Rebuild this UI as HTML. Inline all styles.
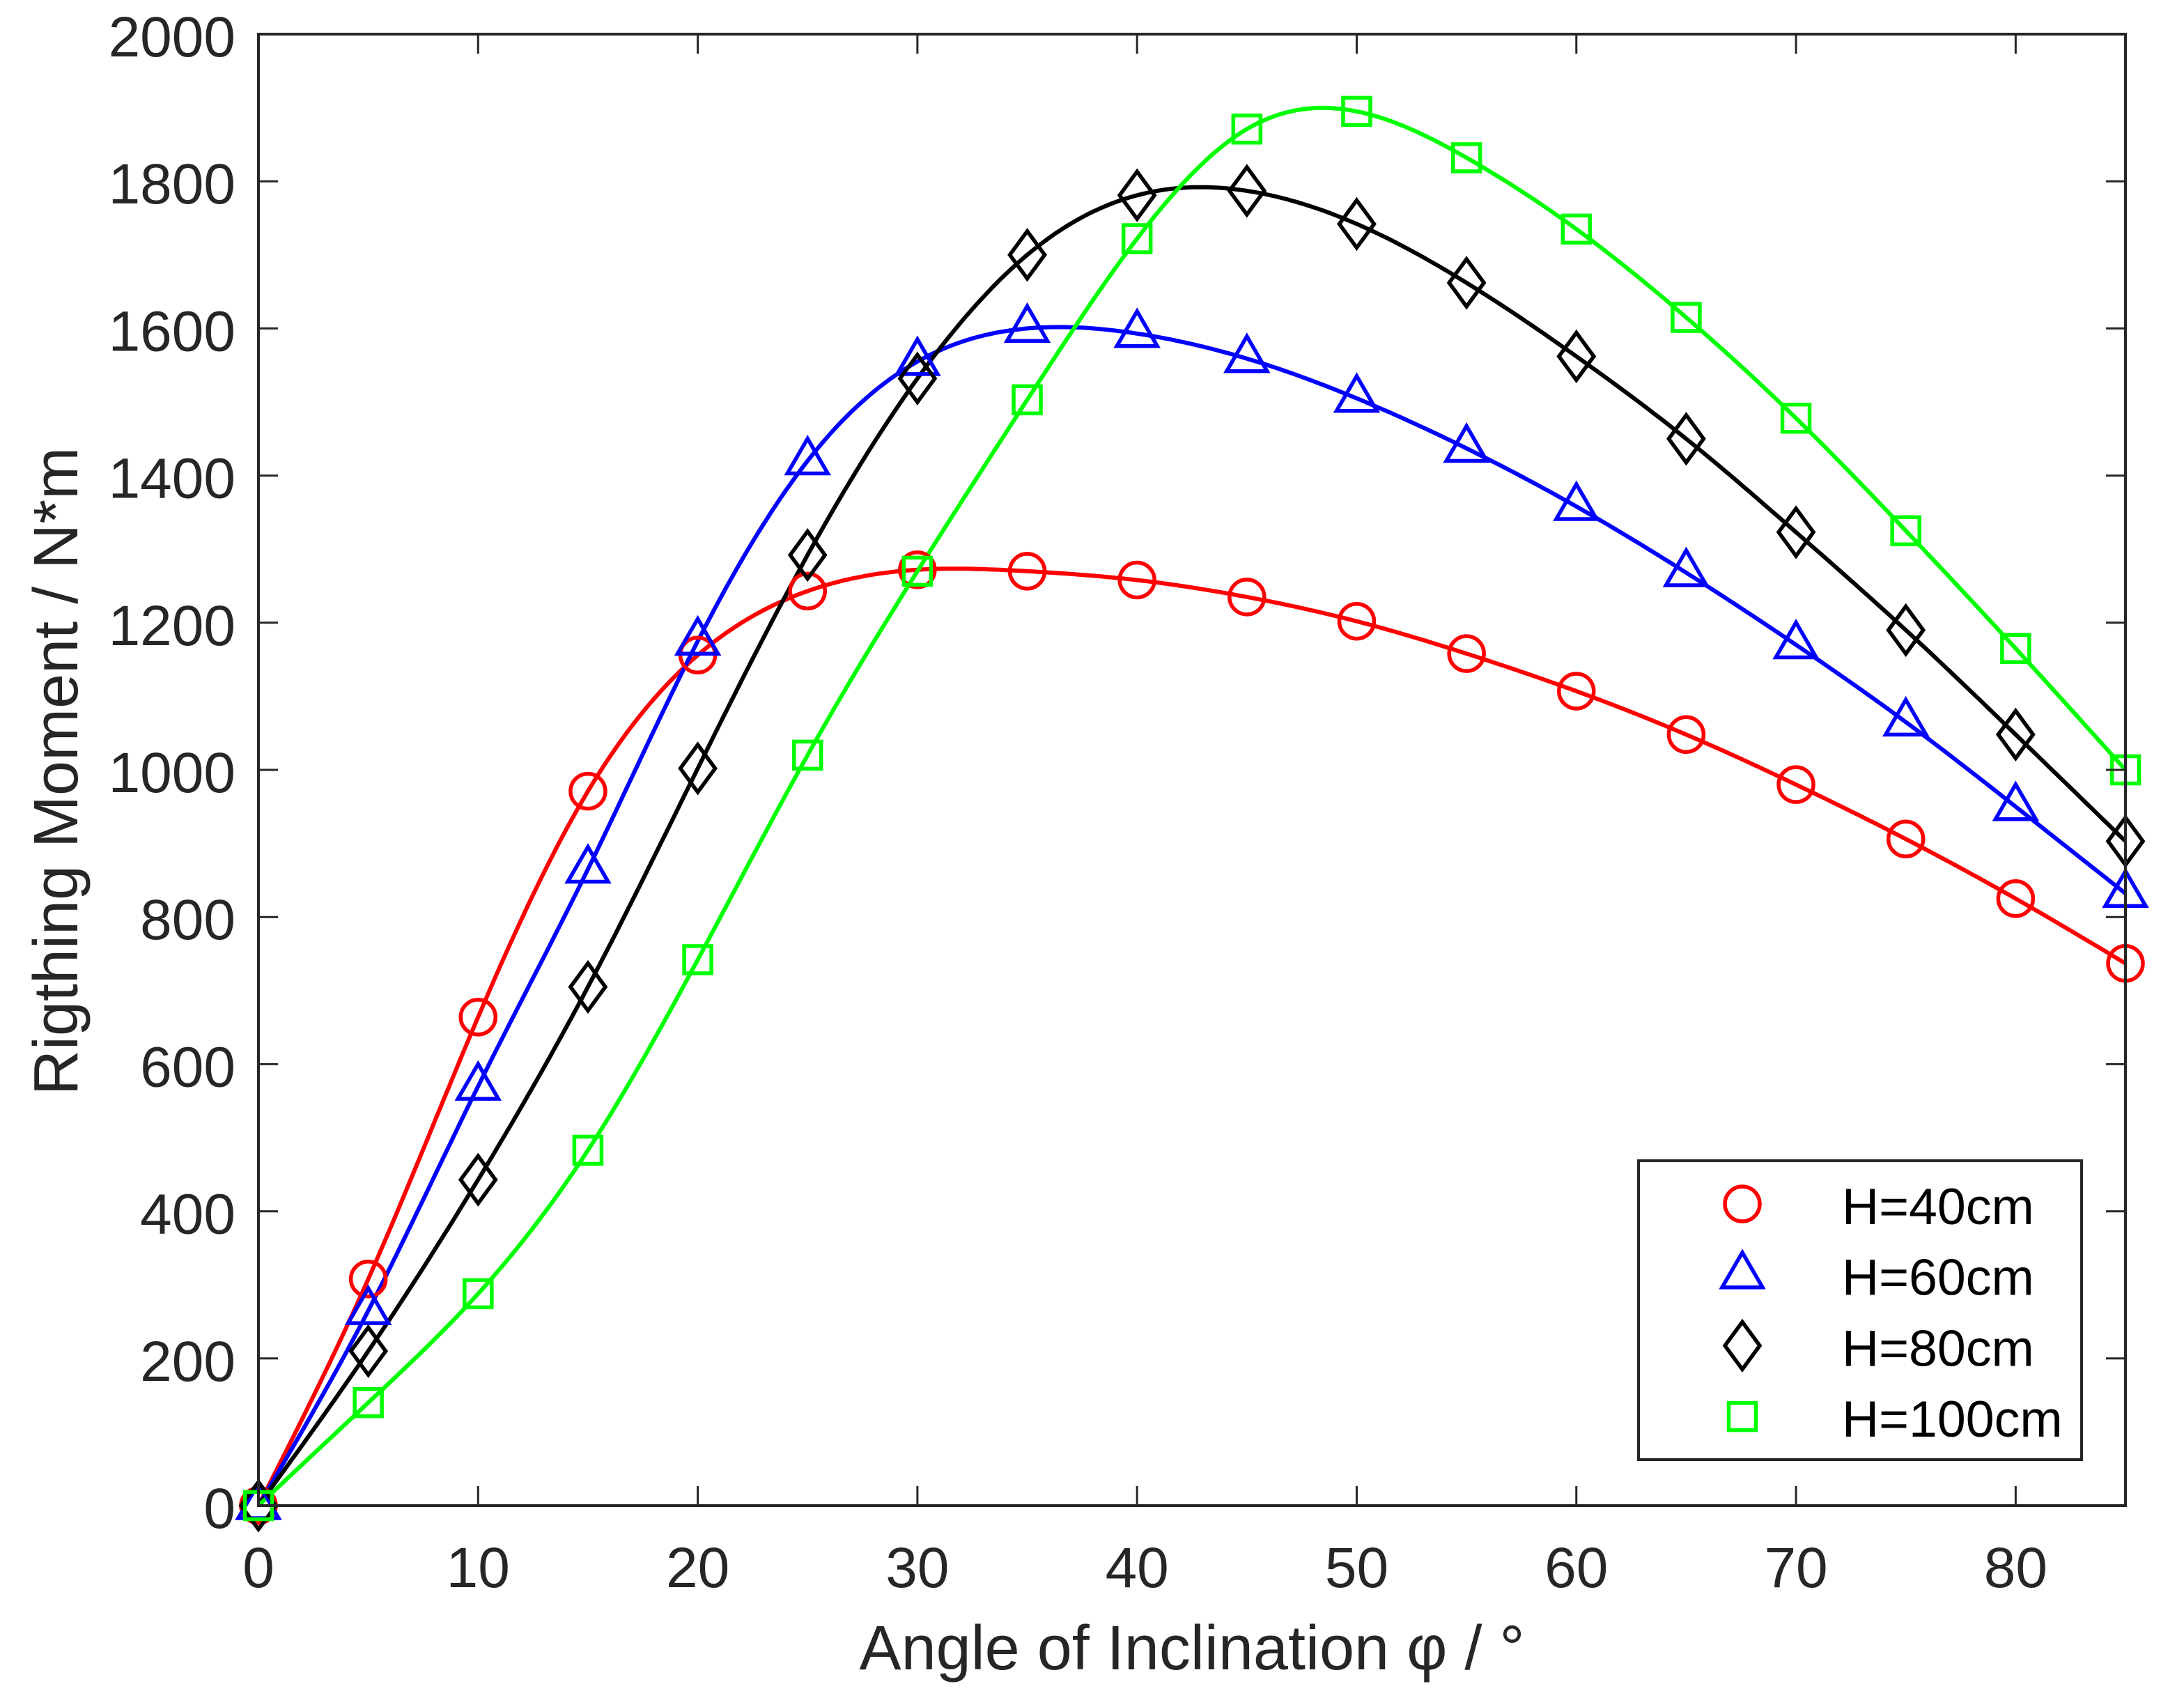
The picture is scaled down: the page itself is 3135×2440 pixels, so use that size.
<!DOCTYPE html>
<html lang="en">
<head>
<meta charset="utf-8">
<title>Righting Moment vs Angle of Inclination</title>
<style>
html,body{margin:0;padding:0;background:#fff;}
svg{display:block;font-family:"Liberation Sans",Arial,sans-serif;}
</style>
</head>
<body>
<svg id="chart" xmlns="http://www.w3.org/2000/svg" width="3135" height="2440" viewBox="0 0 3135 2440">
<rect width="3135" height="2440" fill="#ffffff"/>
<defs><clipPath id="plot-clip"><rect x="371" y="49" width="2680" height="2112"/></clipPath></defs>
<g id="series-lines" clip-path="url(#plot-clip)"></g>
<g id="series-markers"></g>
<g id="axes"></g>
<text x="1711" y="2396" font-size="90" fill="#262626" text-anchor="middle">Angle of Inclination φ / °</text>
<text transform="translate(111 1107) rotate(-90)" font-size="90" fill="#262626" text-anchor="middle">Rigthing Moment / N*m</text>
<g id="legend"></g>
</svg>
<script>
const angles = [0,5,10,15,20,25,30,35,40,45,50,55,60,65,70,75,80,85];
const h40 = [0,308,664,971,1156,1243,1272,1270,1258,1235,1202,1158,1107,1048,980,906,825,737];
const h60 = [0,265,570,865,1175,1420,1555,1600,1593,1559,1505,1437,1358,1268,1170,1065,950,832];
const h80 = [0,210,443,705,1002,1292,1532,1700,1781,1787,1742,1662,1562,1450,1323,1190,1048,903];
const h100 = [0,140,288,483,742,1020,1270,1503,1722,1871,1895,1832,1735,1615,1478,1325,1165,1000];
const xTicks = [0,10,20,30,40,50,60,70,80];
const yTicks = [0,200,400,600,800,1000,1200,1400,1600,1800,2000];
const seriesNames = ['H=40cm','H=60cm','H=80cm','H=100cm'];

const NS = 'http://www.w3.org/2000/svg';
const L = 371, R = 3051, T = 49, B = 2161;
const xMax = 85, yMax = 2000;
const xScale = v => L + (v / xMax) * (R - L);
const yScale = v => B - (v / yMax) * (B - T);
const make = tag => document.createElementNS(NS, tag);

/* natural cubic spline through the data */
function spline(xs, ys) {
  const n = xs.length, a = new Array(n).fill(0), b = new Array(n).fill(0), c = new Array(n).fill(0), d = new Array(n).fill(0);
  b[0] = 1; b[n-1] = 1;
  for (let i = 1; i < n-1; i++) {
    const h0 = xs[i]-xs[i-1], h1 = xs[i+1]-xs[i];
    a[i] = h0; b[i] = 2*(h0+h1); c[i] = h1;
    d[i] = 6*((ys[i+1]-ys[i])/h1 - (ys[i]-ys[i-1])/h0);
  }
  for (let i = 1; i < n; i++) { const m = a[i]/b[i-1]; b[i] -= m*c[i-1]; d[i] -= m*d[i-1]; }
  const z = new Array(n).fill(0);
  z[n-1] = d[n-1]/b[n-1];
  for (let i = n-2; i >= 0; i--) z[i] = (d[i]-c[i]*z[i+1])/b[i];
  return t => {
    let i = 0;
    while (i < n-2 && t > xs[i+1]) i++;
    const h = xs[i+1]-xs[i], p = xs[i+1]-t, q = t-xs[i];
    return z[i]*p*p*p/(6*h) + z[i+1]*q*q*q/(6*h) + (ys[i]/h - z[i]*h/6)*p + (ys[i+1]/h - z[i+1]*h/6)*q;
  };
}

function markerShape(kind, cx, cy, color) {
  let el;
  if (kind === 'circle') {
    el = make('circle');
    el.setAttribute('cx', cx); el.setAttribute('cy', cy); el.setAttribute('r', 25);
  } else if (kind === 'square') {
    el = make('rect');
    el.setAttribute('x', cx-19.5); el.setAttribute('y', cy-19.5); el.setAttribute('width', 39); el.setAttribute('height', 39);
  } else if (kind === 'triangle') {
    el = make('polygon');
    el.setAttribute('points', `${cx},${cy-32} ${cx+29},${cy+18} ${cx-29},${cy+18}`);
  } else {
    el = make('polygon');
    el.setAttribute('points', `${cx},${cy-34} ${cx+25},${cy} ${cx},${cy+34} ${cx-25},${cy}`);
  }
  el.setAttribute('fill', 'none');
  el.setAttribute('stroke', color);
  el.setAttribute('stroke-width', 5.5);
  el.setAttribute('stroke-linejoin', 'miter');
  return el;
}

const seriesList = [
  {values: h40, color: '#ff0000', kind: 'circle', key: 'h40'},
  {values: h60, color: '#0000ff', kind: 'triangle', key: 'h60'},
  {values: h80, color: '#000000', kind: 'diamond', key: 'h80'},
  {values: h100, color: '#00ff00', kind: 'square', key: 'h100'}
];

const linesG = document.getElementById('series-lines');
const markersG = document.getElementById('series-markers');
seriesList.forEach(s => {
  const f = spline(angles, s.values);
  const pts = [];
  for (let t = 0; t <= xMax + 1e-6; t += 0.25) pts.push(xScale(t).toFixed(1) + ',' + yScale(f(t)).toFixed(1));
  const line = make('polyline');
  
  
  line.setAttribute('points', pts.join(' '));
  line.setAttribute('fill', 'none');
  line.setAttribute('stroke', s.color);
  line.setAttribute('stroke-width', 6);
  line.setAttribute('stroke-linejoin', 'round');
  linesG.appendChild(line);
});
seriesList.forEach(s => {
  s.values.forEach((v, i) => {
    const m = markerShape(s.kind, xScale(angles[i]), yScale(v), s.color);
    
    
    markersG.appendChild(m);
  });
});

/* axes */
const axesG = document.getElementById('axes');
const frame = make('rect');


frame.setAttribute('x', L); frame.setAttribute('y', T);
frame.setAttribute('width', R-L); frame.setAttribute('height', B-T);
frame.setAttribute('fill', 'none');
frame.setAttribute('stroke', '#262626');
frame.setAttribute('stroke-width', 4);
axesG.appendChild(frame);

function tickLine(x1, y1, x2, y2) {
  const t = make('line');
  t.setAttribute('x1', x1); t.setAttribute('y1', y1);
  t.setAttribute('x2', x2); t.setAttribute('y2', y2);
  t.setAttribute('stroke', '#262626');
  t.setAttribute('stroke-width', 3);
  return t;
}
xTicks.forEach(v => {
  const x = xScale(v);
  [[B, B-28], [T, T+28]].forEach(p => {
    const t = tickLine(x, p[0], x, p[1]);
    
    
    axesG.appendChild(t);
  });
  const lab = make('text');
  
  
  lab.setAttribute('x', x);
  lab.setAttribute('y', 2278);
  lab.setAttribute('font-size', 82);
  lab.setAttribute('fill', '#262626');
  lab.setAttribute('text-anchor', 'middle');
  lab.textContent = v;
  axesG.appendChild(lab);
});
yTicks.forEach(v => {
  const y = yScale(v);
  [[L, L+28], [R, R-28]].forEach(p => {
    const t = tickLine(p[0], y, p[1], y);
    
    
    axesG.appendChild(t);
  });
  const lab = make('text');
  
  
  lab.setAttribute('x', 338);
  lab.setAttribute('y', y + 32);
  lab.setAttribute('font-size', 82);
  lab.setAttribute('fill', '#262626');
  lab.setAttribute('text-anchor', 'end');
  lab.textContent = v;
  axesG.appendChild(lab);
});

/* legend */
const legendG = document.getElementById('legend');
const box = make('rect');


box.setAttribute('x', 2352); box.setAttribute('y', 1666);
box.setAttribute('width', 636); box.setAttribute('height', 429);
box.setAttribute('fill', '#ffffff');
box.setAttribute('stroke', '#262626');
box.setAttribute('stroke-width', 4);
legendG.appendChild(box);
seriesList.forEach((s, i) => {
  const cy = 1728 + i * 101.7;
  const m = markerShape(s.kind, 2501, cy, s.color);
  
  
  legendG.appendChild(m);
  const t = make('text');
  
  
  t.setAttribute('x', 2644);
  t.setAttribute('y', 1757 + i * 101.7);
  t.setAttribute('font-size', 73.5);
  t.setAttribute('fill', '#000000');
  t.textContent = seriesNames[i];
  legendG.appendChild(t);
});
</script>
</body>
</html>
